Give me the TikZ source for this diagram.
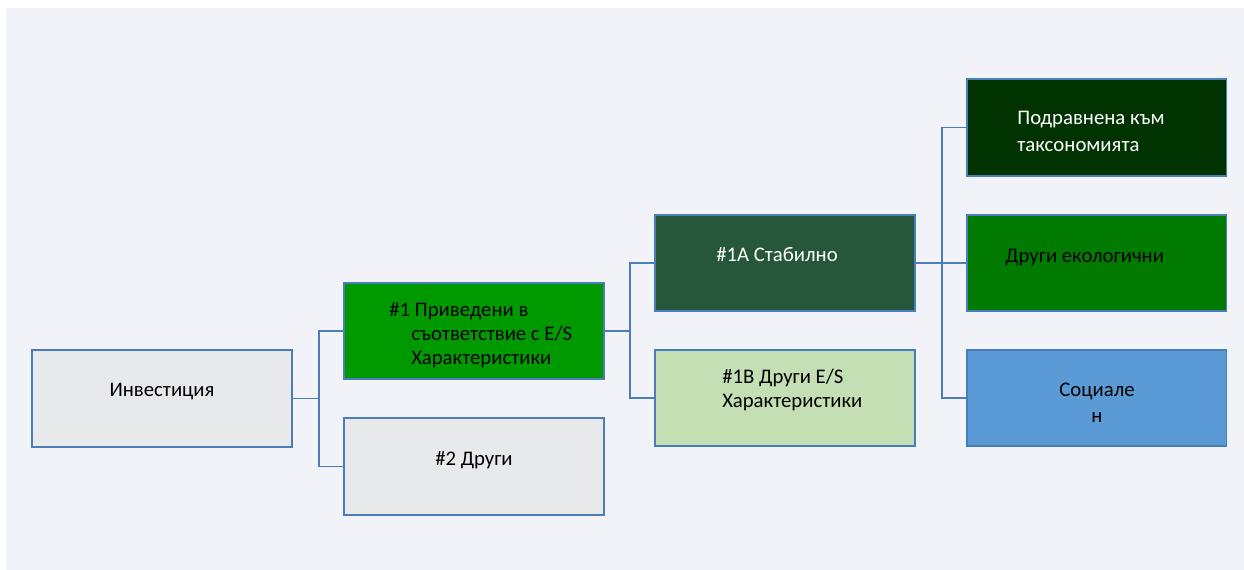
\documentclass[tikz,border=0pt]{standalone}
\usepackage{fontspec}
\setmainfont{Carlito}
\usepackage{tikz}
\usetikzlibrary{positioning}
\usepackage{xcolor}
\definecolor{bgc}{HTML}{F2F3F9}
\definecolor{edgec}{HTML}{4A7EBB}
\definecolor{lightgray}{HTML}{E8E9EA}
\definecolor{midgreen}{HTML}{009900}
\definecolor{pinegreen}{HTML}{27573B}
\definecolor{palegreen}{HTML}{C5DFB4}
\definecolor{deepgreen}{HTML}{003300}
\definecolor{leafgreen}{HTML}{007A00}
\definecolor{skyblue}{HTML}{5B9BD5}

\begin{document}
\begin{tikzpicture}[x=0.02cm, y=-0.02cm,
    box/.style={draw=edgec, line width=1.1pt, rectangle, minimum width=5.2cm, minimum height=1.93cm, inner sep=0pt},
    txt/.style={inner sep=0pt, align=left, font=\fontsize{11.8}{13.7}\selectfont},
    conn/.style={draw=edgec, line width=1.1pt}]
    \useasboundingbox (0,0) rectangle (1244,570);
    \fill[bgc] (6,8) rectangle (1244,570);

    \node (inv) [box, fill=lightgray] at (162,398.5) {};
    \node (n1) [box, fill=midgreen] at (474,331) {};
    \node (n2) [box, fill=lightgray] at (474,466.5) {};
    \node (n1a) [box, fill=pinegreen] at (785,263) {};
    \node (n1b) [box, fill=palegreen] at (785,398) {};
    \node (tax) [box, fill=deepgreen] at (1096.5,127.5) {};
    \node (env) [box, fill=leafgreen] at (1096.5,263) {};
    \node (soc) [box, fill=skyblue] at (1096.5,398) {};

    \node (invt) [txt, anchor=base] at (162,397) {Инвестиция};
    \node (n1t) [txt, anchor=base west] at (411,365) {\hspace*{-0.44cm}\#1 Приведени в\\съответствие с E/S\\Характеристики};
    \node (n2t) [txt, anchor=base] at (474,466) {\#2 Други};
    \node (n1at) [txt, anchor=base west, text=white] at (716,262) {\#1A Стабилно};
    \node (n1bt) [txt, anchor=base west] at (722,408) {\#1B Други E/S\\Характеристики};
    \node (taxt) [txt, anchor=base west, text=white] at (1017,152) {Подравнена към\\[1.7pt]таксономията};
    \node (envt) [txt, anchor=base west] at (1005,263) {Други екологични};
    \node (soct) [txt, anchor=base, align=center] at (1097,423) {Социале\\[1.1pt]н};

    \draw[conn] (inv.east) -- ++(26,0) |- (n1.west);
    \draw[conn] (inv.east) -- ++(26,0) |- (n2.west);
    \draw[conn] (n1.east) -- ++(25,0) |- (n1a.west);
    \draw[conn] (n1.east) -- ++(25,0) |- (n1b.west);
    \draw[conn] (n1a.east) -- ++(26,0) |- (tax.west);
    \draw[conn] (n1a.east) -- ++(26,0) |- (env.west);
    \draw[conn] (n1a.east) -- ++(26,0) |- (soc.west);
\end{tikzpicture}
\end{document}
